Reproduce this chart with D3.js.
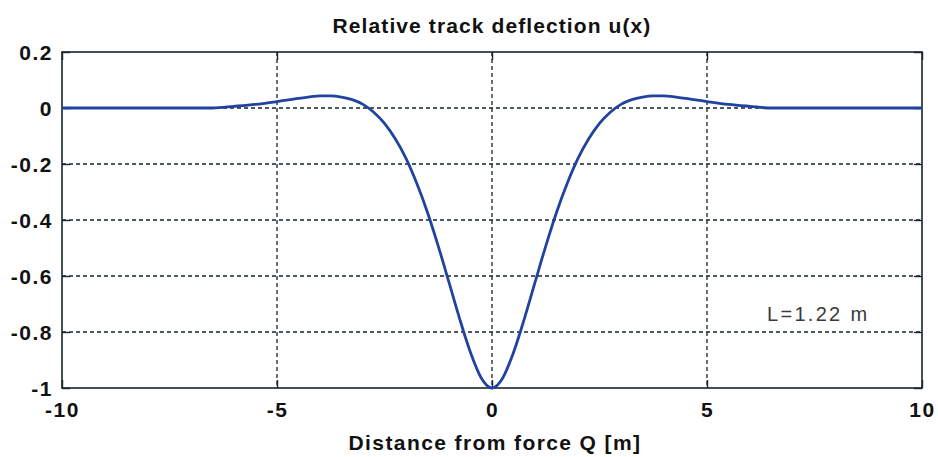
<!DOCTYPE html>
<html><head><meta charset="utf-8">
<script src="https://cdn.jsdelivr.net/npm/d3@7"></script>
<style>
html,body{margin:0;padding:0;background:#fff;}
svg{display:block;font-family:"Liberation Sans",Arial,sans-serif;}
</style></head>
<body><svg id="c" width="938" height="457"></svg>
<script>
const titleText = "Relative track deflection u(x)";
const xLabelText = "Distance from force Q [m]";
const noteText = "L=1.22 m";
const xTicks = [-10, -5, 0, 5, 10];
const yTicks = [0.2, 0, -0.2, -0.4, -0.6, -0.8, -1];
const xValues = [-10, -6.5, -6, -5.5, -5, -4.5, -4, -3.75, -3.5, -3.25, -3, -2.75, -2.5, -2.25, -2, -1.75, -1.5, -1.25, -1, -0.75, -0.5, -0.25, 0,
  0.25, 0.5, 0.75, 1, 1.25, 1.5, 1.75, 2, 2.25, 2.5, 2.75, 3, 3.25, 3.5, 3.75, 4, 4.5, 5, 5.5, 6, 6.5, 10];
const uValues = [0, 0, 0.006, 0.013, 0.023, 0.034, 0.043, 0.043, 0.039, 0.030, 0.013, -0.015, -0.055, -0.110, -0.180, -0.269, -0.373, -0.493, -0.623, -0.754, -0.873, -0.964, -1,
  -0.964, -0.873, -0.754, -0.623, -0.493, -0.373, -0.269, -0.180, -0.110, -0.055, -0.015, 0.013, 0.030, 0.039, 0.043, 0.043, 0.034, 0.023, 0.013, 0.006, 0, 0];

const svg = d3.select("#c");
const m = {l: 62, r: 922, t: 52, b: 388};
const x = d3.scaleLinear().domain([-10, 10]).range([m.l, m.r]);
const y = d3.scaleLinear().domain([-1, 0.2]).range([m.b, m.t]);
const ink = "#15252a";

// grid
const g = svg.append("g");
g.selectAll(".vg").data(xTicks.filter(d => d > -10 && d < 10)).enter().append("line")
  .attr("x1", d => x(d)).attr("x2", d => x(d)).attr("y1", m.t).attr("y2", m.b)
  .attr("stroke", ink).attr("stroke-width", 1.3).attr("stroke-dasharray", "4,3");
g.selectAll(".hg").data(yTicks.filter(d => d > -1 && d < 0.2)).enter().append("line")
  .attr("x1", m.l).attr("x2", m.r).attr("y1", d => y(d)).attr("y2", d => y(d))
  .attr("stroke", ink).attr("stroke-width", 1.3).attr("stroke-dasharray", "4,3");

// axes with inward ticks
const fmt = d => d === 0 ? "0" : String(d);
const axB = svg.append("g").attr("transform", `translate(0,${m.b})`)
  .call(d3.axisBottom(x).tickValues(xTicks).tickSize(-8).tickPadding(14).tickFormat(fmt));
const axT = svg.append("g").attr("transform", `translate(0,${m.t})`)
  .call(d3.axisTop(x).tickValues(xTicks).tickSize(-8).tickFormat(""));
const axL = svg.append("g").attr("transform", `translate(${m.l},0)`)
  .call(d3.axisLeft(y).tickValues(yTicks).tickSize(-8).tickPadding(9).tickFormat(fmt));
const axR = svg.append("g").attr("transform", `translate(${m.r},0)`)
  .call(d3.axisRight(y).tickValues(yTicks).tickSize(-8).tickFormat(""));
[axB, axT, axL, axR].forEach(a => {
  a.select(".domain").remove();
  a.selectAll("line").attr("stroke", ink).attr("stroke-width", 1.4);
  a.selectAll("text").attr("fill", "#111").attr("font-size", 21).attr("font-weight", "bold")
    .attr("letter-spacing", 1.5).style("font-family", "'Liberation Sans',Arial,sans-serif");
});
axL.selectAll("text").attr("dy", "0.36em");
axB.selectAll("text").attr("dy", "0.73em");

// frame
svg.append("rect").attr("x", m.l).attr("y", m.t).attr("width", m.r - m.l).attr("height", m.b - m.t)
  .attr("fill", "none").attr("stroke", ink).attr("stroke-width", 1.6);

// curve
const line = d3.line().x((d, i) => x(xValues[i])).y((d, i) => y(uValues[i])).curve(d3.curveMonotoneX);
svg.append("path").datum(uValues).attr("d", line)
  .attr("fill", "none").attr("stroke", "#2143a0").attr("stroke-width", 2.8).attr("stroke-linejoin", "round");

// texts
svg.append("text").attr("x", x(0)).attr("y", 33).attr("text-anchor", "middle")
  .attr("font-size", 21).attr("font-weight", "bold").attr("letter-spacing", 1.1).attr("fill", "#111").text(titleText);
svg.append("text").attr("x", x(0) + 3).attr("y", 450).attr("text-anchor", "middle")
  .attr("font-size", 21).attr("font-weight", "bold").attr("letter-spacing", 1.4).attr("fill", "#111").text(xLabelText);
svg.append("text").attr("x", 767).attr("y", 321).attr("text-anchor", "start")
  .attr("font-size", 20).attr("letter-spacing", 2.3).attr("fill", "#3a3a3a").text(noteText);
</script></body></html>
